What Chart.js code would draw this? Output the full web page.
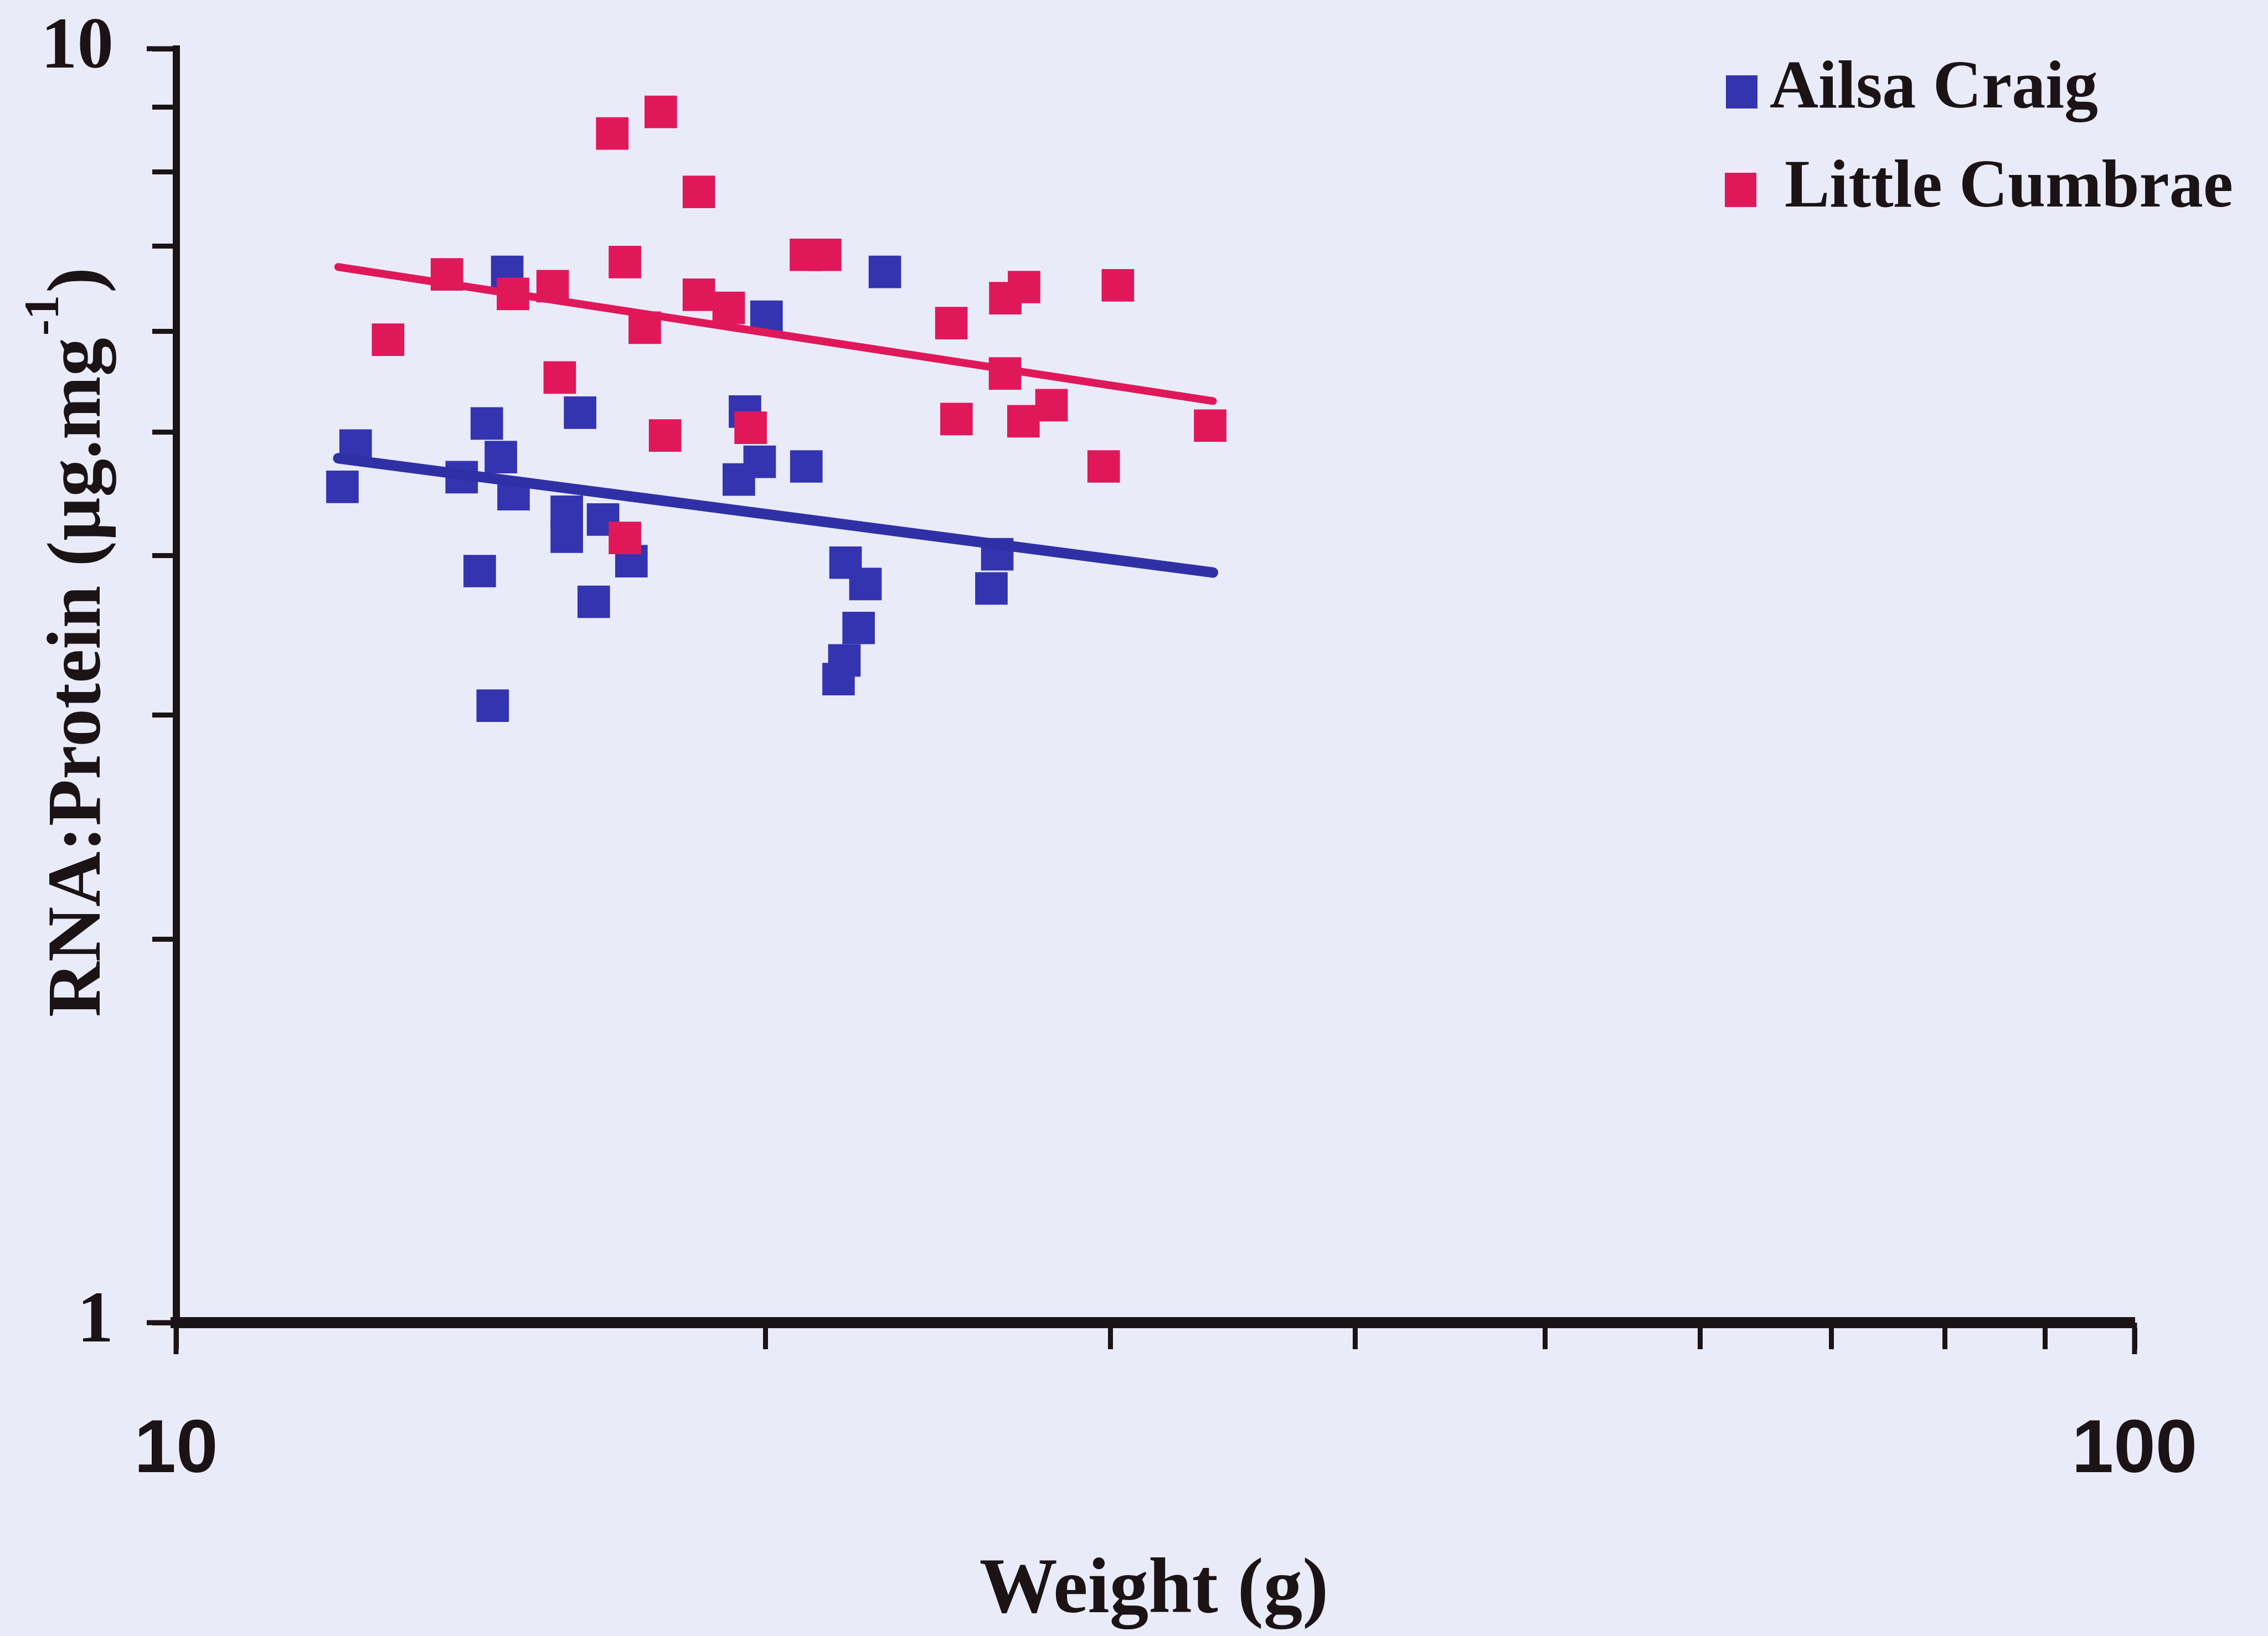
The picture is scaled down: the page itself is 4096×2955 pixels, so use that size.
<!DOCTYPE html>
<html>
<head>
<meta charset="utf-8">
<script src="https://cdn.jsdelivr.net/npm/chart.js@4.4.1/dist/chart.umd.min.js"></script>
<style>
  html, body { margin: 0; padding: 0; background: #e9ecf8; }
  #wrap { width: 4096px; height: 2955px; }
</style>
</head>
<body>
<div id="wrap"><canvas id="chart" width="4096" height="2955"></canvas></div>
<script>
// weight (g) against RNA:protein ratio for each fish
const ailsaWeight = [12.35, 12.16, 13.99, 14.41, 14.65, 14.87, 15.83, 15.83, 16.52, 17.08, 16.08, 14.29, 16.34, 14.51,
  14.76, 19.52, 19.86, 19.38, 20.02, 20.98, 23.01, 21.97, 22.49, 22.31, 21.94, 21.79, 26.26, 26.08];
const ailsaRatio = [4.88, 4.53, 4.61, 5.08, 4.78, 4.47, 4.33, 4.14, 4.27, 3.96, 5.18, 3.89, 3.68, 3.05,
  6.68, 5.19, 4.74, 4.59, 6.16, 4.70, 6.68, 3.95, 3.80, 3.51, 3.31, 3.20, 4.01, 3.77];

const cumbraeWeight = [12.83, 13.75, 14.86, 15.57, 15.70, 16.70, 16.95, 16.95, 17.35, 17.68, 17.77, 18.49, 18.49, 19.15,
  19.65, 20.97, 21.45, 24.88, 25.03, 27.10, 26.51, 26.50, 27.08, 27.99, 29.76, 30.26, 33.73];
const cumbraeRatio = [5.91, 6.65, 6.42, 6.51, 5.52, 8.58, 6.80, 4.13, 6.04, 8.92, 4.97, 7.72, 6.41, 6.26,
  5.04, 6.89, 6.89, 6.09, 5.12, 6.50, 6.37, 5.56, 5.10, 5.25, 4.70, 6.52, 5.06];

// power-law trend lines (end points)
const ailsaTrendWeight = [12.1, 33.84];
const ailsaTrendRatio = [4.77, 3.88];
const cumbraeTrendWeight = [12.1, 33.84];
const cumbraeTrendRatio = [6.74, 5.29];

const seriesNames = ["Ailsa Craig", "Little Cumbrae"];
const xTickValues = [10, 20, 30, 40, 50, 60, 70, 80, 90, 100];
const yTickValues = [1, 2, 3, 4, 5, 6, 7, 8, 9, 10];
const xLabelled = [10, 100];
const yLabelled = [1, 10];

const BLUE = "#3434b0";
const PINK = "#e0185a";
const INK = "#1b1315";
const SERIF = '"Liberation Serif", "Times New Roman", serif';

function pairs(xs, ys) {
  return xs.map((x, i) => ({ x: x, y: ys[i] }));
}

// longer marks at the labelled decades, legend and axis titles
const extras = {
  id: "extras",
  afterDraw(chart) {
    const ctx = chart.ctx;
    const area = chart.chartArea;
    const xs = chart.scales.x, ys = chart.scales.y;
    ctx.save();
    ctx.strokeStyle = INK;
    ctx.lineWidth = 9;
    xLabelled.forEach(v => {
      const px = xs.getPixelForValue(v);
      ctx.beginPath();
      ctx.moveTo(px, area.bottom);
      ctx.lineTo(px, area.bottom + 57);
      ctx.stroke();
    });
    yLabelled.forEach(v => {
      const py = ys.getPixelForValue(v);
      ctx.beginPath();
      ctx.moveTo(area.left, py);
      ctx.lineTo(area.left - 53, py);
      ctx.stroke();
    });

    // legend
    ctx.fillStyle = BLUE;
    ctx.fillRect(3117, 136, 57, 60);
    ctx.fillStyle = PINK;
    ctx.fillRect(3115, 312, 57, 62);
    ctx.fillStyle = INK;
    ctx.font = "bold 122px " + SERIF;
    ctx.textBaseline = "alphabetic";
    ctx.textAlign = "left";
    ctx.fillText(seriesNames[0], 3196, 194);
    ctx.fillText(seriesNames[1], 3223, 373);

    // x title
    ctx.font = "bold 141px " + SERIF;
    ctx.textAlign = "center";
    ctx.fillText("Weight (g)", 2084, 2912);

    // y title with superscript
    ctx.translate(180, 1837);
    ctx.rotate(-Math.PI / 2);
    ctx.textAlign = "left";
    const main = "RNA:Protein (\u00b5g.mg";
    ctx.font = "bold 138px " + SERIF;
    ctx.fillText(main, 0, 0);
    let w = ctx.measureText(main).width;
    ctx.font = "bold 88px " + SERIF;
    ctx.fillText("-1", w + 4, -76);
    w += ctx.measureText("-1").width + 8;
    ctx.font = "bold 138px " + SERIF;
    ctx.fillText(")", w, 0);
    ctx.restore();
  }
};

new Chart(document.getElementById("chart"), {
  type: "scatter",
  data: {
    datasets: [
      {
        label: seriesNames[1] + " trend",
        data: pairs(cumbraeTrendWeight, cumbraeTrendRatio),
        showLine: true,
        borderColor: PINK,
        borderWidth: 14,
        borderCapStyle: "round",
        pointRadius: 0
      },
      {
        label: seriesNames[0] + " trend",
        data: pairs(ailsaTrendWeight, ailsaTrendRatio),
        showLine: true,
        borderColor: "#3030a6",
        borderWidth: 19,
        borderCapStyle: "round",
        pointRadius: 0
      },
      {
        label: seriesNames[1],
        data: pairs(cumbraeWeight, cumbraeRatio),
        pointStyle: "rect",
        pointRadius: 41.5,
        pointBorderWidth: 0,
        backgroundColor: PINK,
        borderColor: PINK
      },
      {
        label: seriesNames[0],
        data: pairs(ailsaWeight, ailsaRatio),
        pointStyle: "rect",
        pointRadius: 41.5,
        pointBorderWidth: 0,
        backgroundColor: BLUE,
        borderColor: BLUE
      }
    ]
  },
  options: {
    responsive: false,
    animation: false,
    devicePixelRatio: 1,
    layout: { padding: { top: 88, right: 241, left: 0, bottom: 0 } },
    plugins: { legend: { display: false }, tooltip: { enabled: false } },
    scales: {
      x: {
        type: "logarithmic",
        min: 10,
        max: 100,
        afterBuildTicks: s => { s.ticks = xTickValues.map(v => ({ value: v })); },
        afterFit: s => {
          s.height = 566;
          s.paddingLeft = 0;
          s.paddingRight = 0;
        },
        border: { display: true, width: 20, color: INK },
        grid: { drawOnChartArea: false, drawTicks: true, tickLength: 48, tickWidth: 9, tickColor: INK },
        ticks: {
          autoSkip: false,
          maxRotation: 0,
          padding: 103,
          color: INK,
          font: { family: '"Liberation Sans", Arial, sans-serif', weight: "bold", size: 136 },
          callback: v => xLabelled.includes(v) ? String(v) : ""
        }
      },
      y: {
        type: "logarithmic",
        min: 1,
        max: 10,
        afterBuildTicks: s => { s.ticks = yTickValues.map(v => ({ value: v })); },
        afterFit: s => {
          s.width = 318;
          s.paddingTop = 0;
          s.paddingBottom = 0;
        },
        border: { display: true, width: 13, color: INK },
        grid: { drawOnChartArea: false, drawTicks: true, tickLength: 43, tickWidth: 9, tickColor: INK },
        ticks: {
          autoSkip: false,
          padding: 70,
          color: INK,
          font: { family: SERIF, weight: "bold", size: 131 },
          callback: v => yLabelled.includes(v) ? String(v) : ""
        }
      }
    }
  },
  plugins: [extras]
});
</script>
</body>
</html>
